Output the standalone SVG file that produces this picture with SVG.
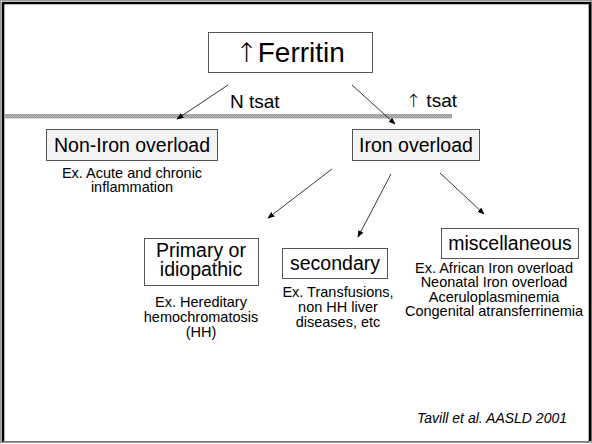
<svg xmlns="http://www.w3.org/2000/svg" width="592" height="444" viewBox="0 0 592 444">
<style>
text{font-family:"Liberation Sans",Arial,sans-serif;fill:#000}
.arr{font-family:"DejaVu Sans","Liberation Sans",sans-serif;font-weight:200}
.box{stroke:#555;stroke-width:1;fill:#fff}
.grey{fill:#f3f3f3}
.lbl{font-size:19.5px;text-anchor:middle}
.sub{font-size:14.5px;text-anchor:middle}
.conn line{stroke:#222;stroke-width:0.9}
</style>
<defs>
<marker id="ah" viewBox="0 0 10 10" refX="9" refY="5" markerWidth="7" markerHeight="7" markerUnits="userSpaceOnUse" orient="auto">
<path d="M0,1 L10,5 L0,9 z" fill="#000"/>
</marker>
<pattern id="hatch" width="2" height="2" patternUnits="userSpaceOnUse">
<rect width="2" height="2" fill="#b4b4b4"/>
<rect width="1" height="1" fill="#999"/>
<rect x="1" y="1" width="1" height="1" fill="#999"/>
</pattern>
</defs>
<rect x="0" y="0" width="592" height="444" fill="#fff"/>
<rect x="0.5" y="0.5" width="591" height="442" fill="none" stroke="#999" stroke-width="1"/>
<path d="M3,442 V3 H590 V441" fill="none" stroke="#000" stroke-width="2.6"/>
<line x1="3" y1="441.5" x2="590" y2="441.5" stroke="#777" stroke-width="1"/>
<rect x="4" y="114" width="448" height="4.5" fill="url(#hatch)"/>

<g id="ferritin">
<rect class="box" x="208.5" y="32.5" width="164" height="40"/>
<text x="290" y="62" font-size="28" text-anchor="middle"><tspan class="arr" font-size="27">↑</tspan>Ferritin</text>
</g>
<g id="ntsat"><text x="230" y="108" font-size="19">N tsat</text></g>
<g id="uptsat"><text x="406" y="107" font-size="19"><tspan class="arr" font-size="18">↑</tspan> tsat</text></g>

<g id="nonIron">
<rect class="box grey" x="46.5" y="129.5" width="171" height="31"/>
<text class="lbl" x="132" y="152">Non-Iron overload</text>
<text class="sub" x="132" y="178">Ex. Acute and chronic</text>
<text class="sub" x="132" y="192">inflammation</text>
</g>

<g id="ironOverload">
<rect class="box grey" x="352.5" y="129.5" width="127" height="31"/>
<text class="lbl" x="416" y="152">Iron overload</text>
</g>

<g id="primary">
<rect class="box" x="144.5" y="238.5" width="114" height="47"/>
<text class="lbl" x="201" y="257">Primary or</text>
<text class="lbl" x="201" y="276">idiopathic</text>
<text class="sub" x="201" y="307">Ex. Hereditary</text>
<text class="sub" x="201" y="322">hemochromatosis</text>
<text class="sub" x="201" y="337">(HH)</text>
</g>

<g id="secondary">
<rect class="box" x="282.5" y="248.5" width="105" height="30"/>
<text class="lbl" x="335" y="270">secondary</text>
<text class="sub" x="338" y="297">Ex. Transfusions,</text>
<text class="sub" x="338" y="312">non HH liver</text>
<text class="sub" x="338" y="327">diseases, etc</text>
</g>

<g id="misc">
<rect class="box" x="441.5" y="228.5" width="137" height="30"/>
<text class="lbl" x="510" y="250">miscellaneous</text>
<text class="sub" x="494" y="273">Ex. African Iron overload</text>
<text class="sub" x="494" y="287">Neonatal Iron overload</text>
<text class="sub" x="494" y="302">Aceruloplasminemia</text>
<text class="sub" x="494" y="316">Congenital atransferrinemia</text>
</g>

<g id="citation"><text x="567" y="423" font-size="14" font-style="italic" text-anchor="end">Tavill et al. AASLD 2001</text></g>

<g id="connectors" class="conn">
<line x1="228" y1="85" x2="177" y2="119" marker-end="url(#ah)"/>
<line x1="352" y1="85" x2="395" y2="124" marker-end="url(#ah)"/>
<line x1="332" y1="169" x2="268" y2="218" marker-end="url(#ah)"/>
<line x1="391" y1="174" x2="358" y2="237" marker-end="url(#ah)"/>
<line x1="440" y1="173" x2="484" y2="214" marker-end="url(#ah)"/>
</g>
</svg>
